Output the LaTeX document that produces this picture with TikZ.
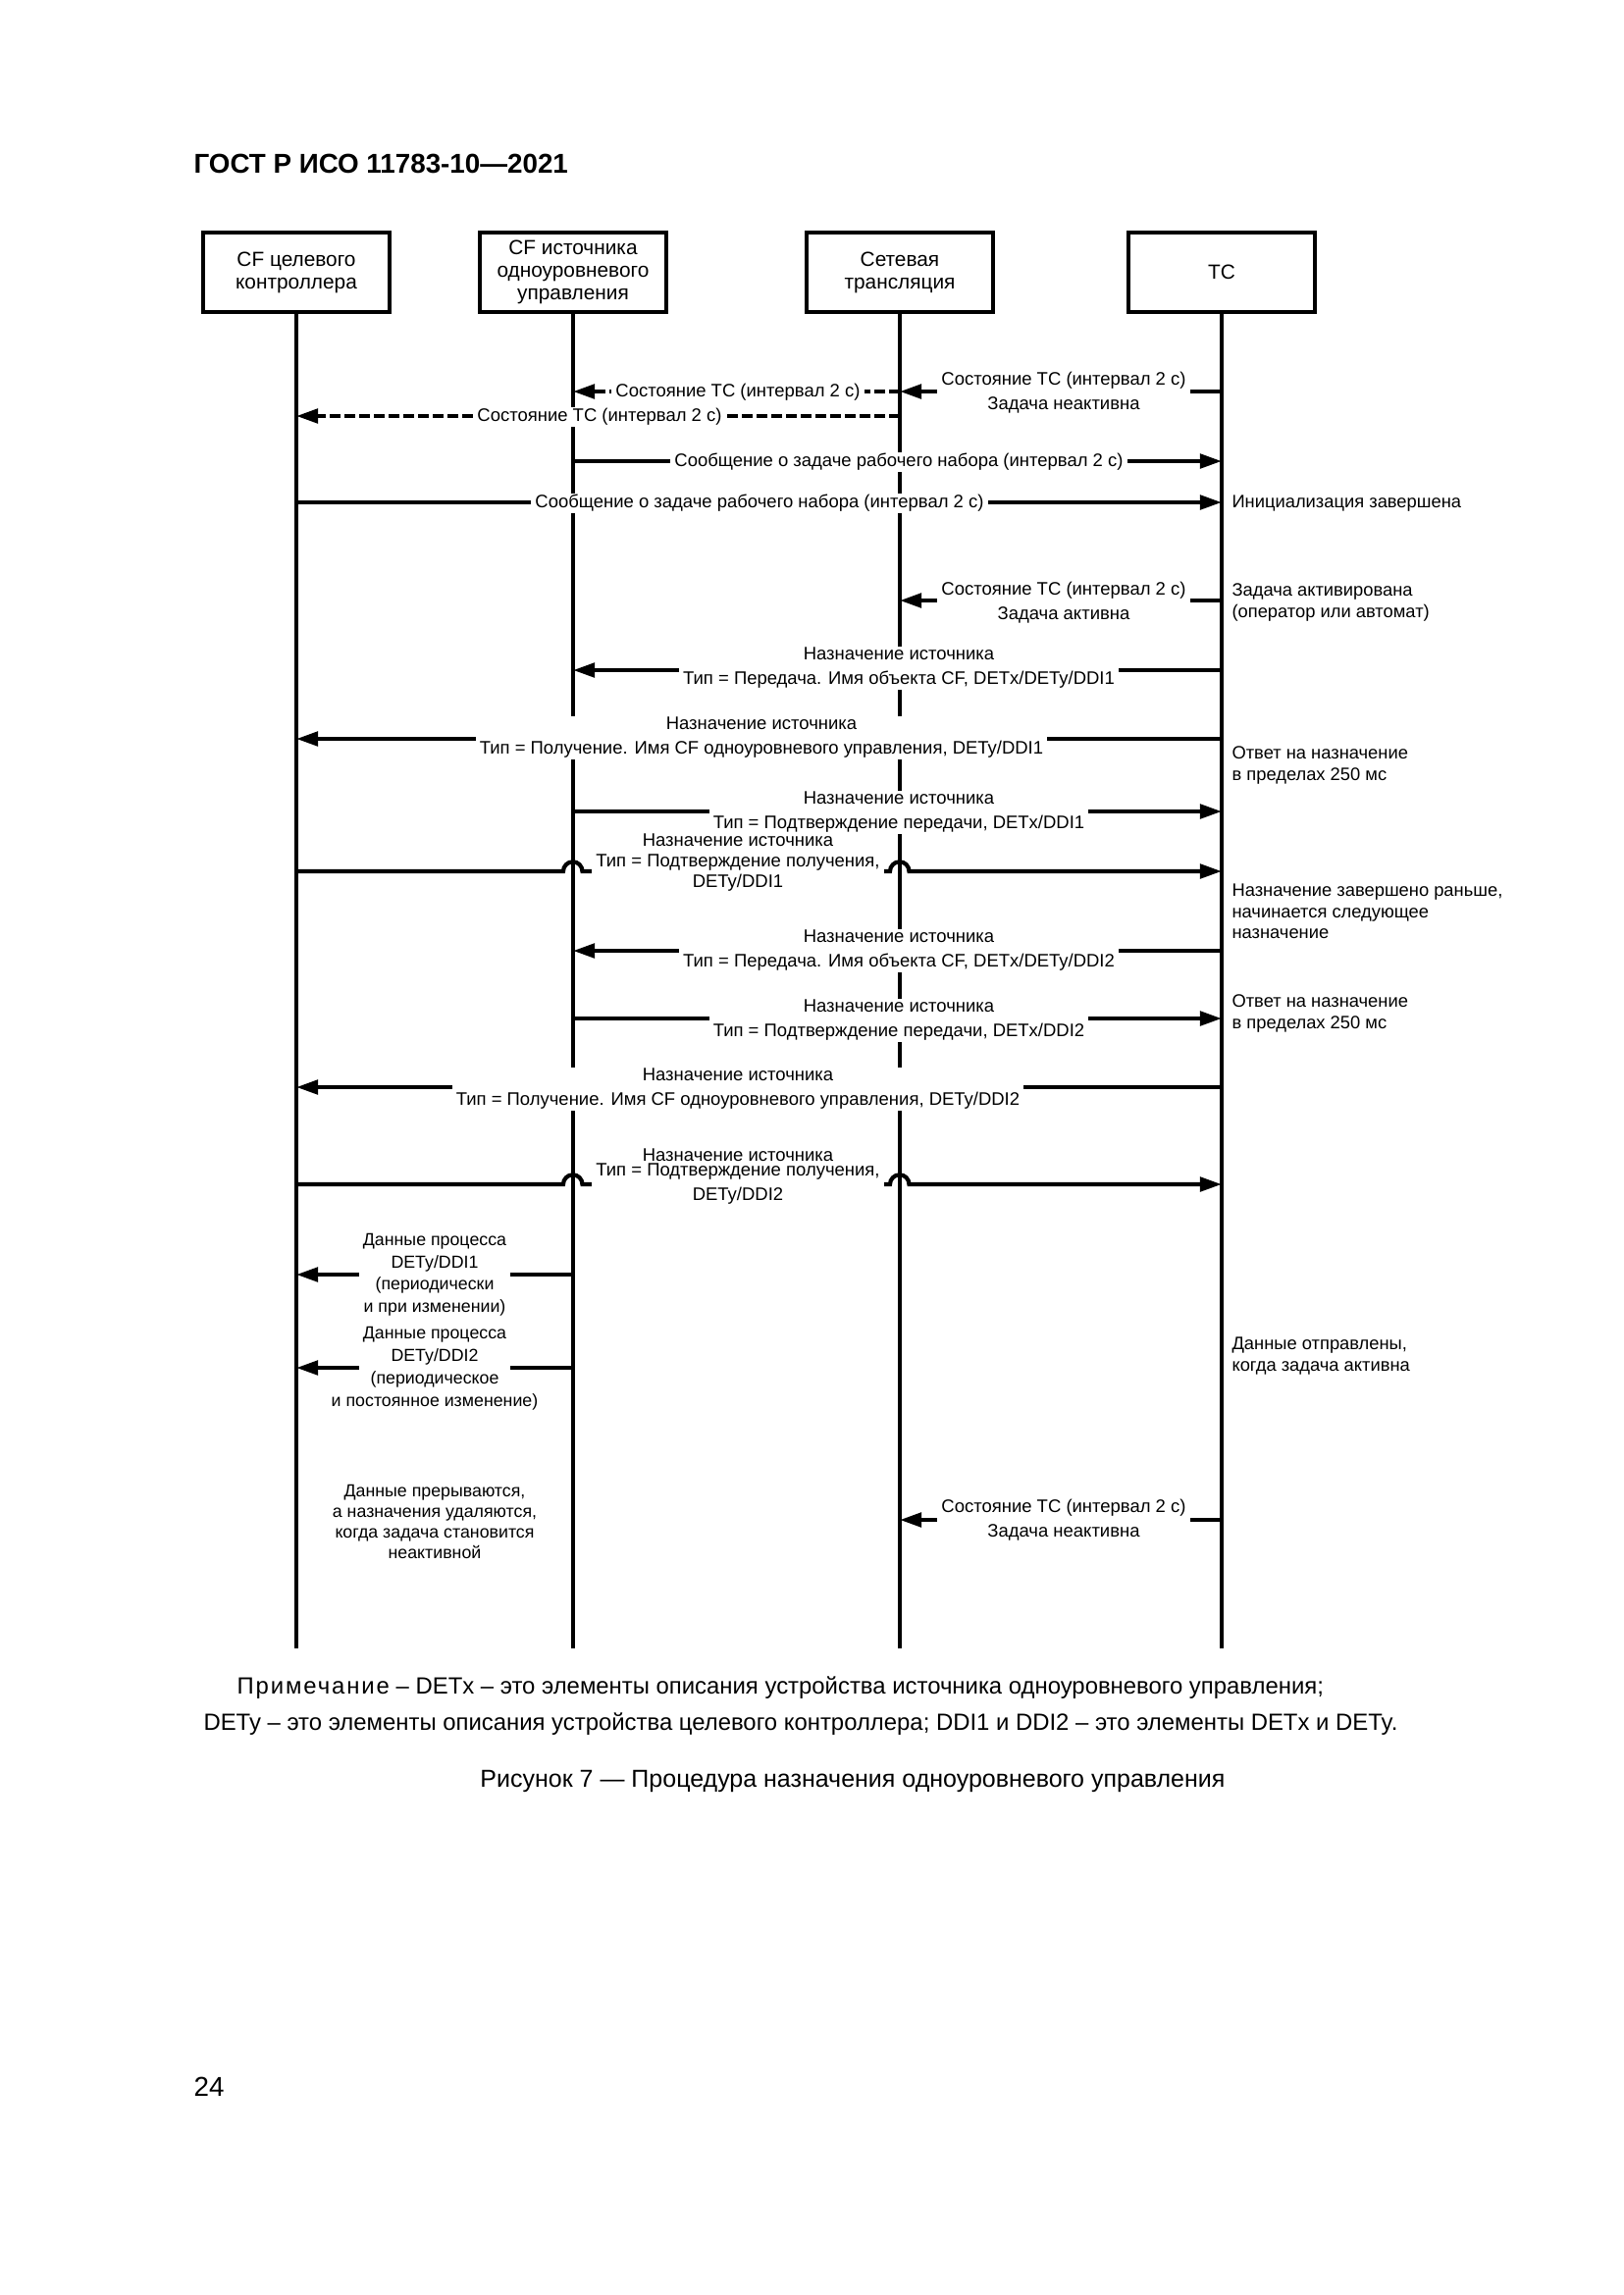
\documentclass[tikz,border=0pt]{standalone}
\usepackage{fontspec}
\setmainfont{Liberation Sans}
\usetikzlibrary{arrows.meta}
\begin{document}
\begin{tikzpicture}[x=0.36pt,y=-0.36pt,
  lifebox/.style={draw, line width=1.3pt, minimum width=68.4pt, minimum height=29.2pt, inner sep=0pt, align=center, font=\fontsize{7.5}{8.3}\selectfont},
  life/.style={line width=1.1pt},
  msg/.style={line width=1.5pt, -{Triangle[length=8pt,width=5.2pt]}},
  dmsg/.style={msg, dash pattern=on 4pt off 1.4pt},
  lbl/.style={fill=white, align=center, inner xsep=1.5pt, inner ysep=0.5pt, font=\fontsize{6.65}{9}\selectfont},
  lbltight/.style={lbl, font=\fontsize{6.65}{7.6}\selectfont},
  lbldata/.style={lbl, inner ysep=3pt, font=\fontsize{6.4}{8.3}\selectfont},
  datatext/.style={inner sep=0pt, align=center, font=\fontsize{6.4}{8.3}\selectfont},
  ann/.style={anchor=west, align=left, inner sep=0pt, font=\fontsize{6.6}{7.8}\selectfont},
  plain/.style={inner sep=0pt}
]
\useasboundingbox (0,0) rectangle (1654,2339);

% header
\node[plain, anchor=west, font=\fontsize{10}{12}\selectfont\bfseries] (hdr) at (197,167) {ГОСТ Р ИСО 11783-10—2021};

% lifeline heads
\node[lifebox] (b1) at (302,277.5) {CF целевого\\контроллера};
\node[lifebox] (b2) at (584,277.5) {CF источника\\одноуровневого\\управления};
\node[lifebox] (b3) at (917,277.5) {Сетевая\\трансляция};
\node[lifebox] (b4) at (1245,277.5) {ТС};

\coordinate (e1) at (302,1680);
\coordinate (e2) at (584,1680);
\coordinate (e3) at (917,1680);
\coordinate (e4) at (1245,1680);
\draw[life] (b1) -- (e1);
\draw[life] (b2) -- (e2);
\draw[life] (b3) -- (e3);
\draw[life] (b4) -- (e4);

% R1: TC -> network, network -> source (dashed)
\draw[msg] (b4 |- 0,399) -- (b3 |- 0,399);
\node[lbl] (m1) at (1084,400) {Состояние ТС (интервал 2 с)\\Задача неактивна};
\draw[dmsg] (b3 |- 0,399) -- (b2 |- 0,399);
\node[lbl] (m1b) at (752,400) {Состояние ТС (интервал 2 с)};
% R2: network -> target (dashed)
\draw[dmsg] (b3 |- 0,424) -- (b1 |- 0,424);
\node[lbl] (m2) at (611,425) {Состояние ТС (интервал 2 с)};
% R3
\draw[msg] (b2 |- 0,470) -- (b4 |- 0,470);
\node[lbl] (m3) at (916,471) {Сообщение о задаче рабочего набора (интервал 2 с)};
% R4
\draw[msg] (b1 |- 0,512) -- (b4 |- 0,512);
\node[lbl] (m4) at (774,513) {Сообщение о задаче рабочего набора (интервал 2 с)};
\node[ann] (a4) at (1255,513) {Инициализация завершена};
% R5
\draw[msg] (b4 |- 0,612) -- (b3 |- 0,612);
\node[lbl] (m5) at (1084,614) {Состояние ТС (интервал 2 с)\\Задача активна};
\node[ann] (a5) at (1255,614) {Задача активирована\\(оператор или автомат)};
% R6
\draw[msg] (b4 |- 0,683) -- (b2 |- 0,683);
\node[lbl] (m6) at (916,681) {Назначение источника\\Тип = Передача. Имя объекта CF, DETx/DETy/DDI1};
% R7
\draw[msg] (b4 |- 0,753) -- (b1 |- 0,753);
\node[lbl] (m7) at (776,752) {Назначение источника\\Тип = Получение. Имя CF одноуровневого управления, DETy/DDI1};
\node[ann] (a7) at (1255,780) {Ответ на назначение\\в пределах 250 мс};
% R8
\draw[msg] (b2 |- 0,827) -- (b4 |- 0,827);
\node[lbl] (m8) at (916,828) {Назначение источника\\Тип = Подтверждение передачи, DETx/DDI1};
% R9 (with jumps)
\draw[msg] (b1 |- 0,888) -- (574,888) arc[start angle=180,end angle=0,radius=3.5pt] -- (907,888) arc[start angle=180,end angle=0,radius=3.5pt] -- (b4 |- 0,888);
\node[lbltight] (m9) at (752,879) {Назначение источника\\Тип = Подтверждение получения,\\DETy/DDI1};
\node[ann] (a9) at (1255,929) {Назначение завершено раньше,\\начинается следующее\\назначение};
% R10
\draw[msg] (b4 |- 0,969) -- (b2 |- 0,969);
\node[lbl] (m10) at (916,969) {Назначение источника\\Тип = Передача. Имя объекта CF, DETx/DETy/DDI2};
% R11
\draw[msg] (b2 |- 0,1038) -- (b4 |- 0,1038);
\node[lbl] (m11) at (916,1040) {Назначение источника\\Тип = Подтверждение передачи, DETx/DDI2};
\node[ann] (a11) at (1255,1033) {Ответ на назначение\\в пределах 250 мс};
% R12
\draw[msg] (b4 |- 0,1108) -- (b1 |- 0,1108);
\node[lbl] (m12) at (752,1110) {Назначение источника\\Тип = Получение. Имя CF одноуровневого управления, DETy/DDI2};
% R13 (with jumps)
\draw[msg] (b1 |- 0,1207) -- (574,1207) arc[start angle=180,end angle=0,radius=3.5pt] -- (907,1207) arc[start angle=180,end angle=0,radius=3.5pt] -- (b4 |- 0,1207);
\node[lbltight] (m13) at (752,1199) {Назначение источника\\[-2pt]Тип = Подтверждение получения,\\[1.5pt]DETy/DDI2};
% R14
\draw[msg] (b2 |- 0,1299) -- (b1 |- 0,1299);
\node[lbldata] (m14) at (443,1277) {Данные процесса\\DETy/DDI1};
\node[datatext] (m14b) at (443,1321) {(периодически\\и при изменении)};
% R15
\draw[msg] (b2 |- 0,1394) -- (b1 |- 0,1394);
\node[lbldata] (m15) at (443,1372) {Данные процесса\\DETy/DDI2};
\node[datatext] (m15b) at (443,1417) {(периодическое\\и постоянное изменение)};
\node[ann] (a15) at (1255,1382) {Данные отправлены,\\когда задача активна};
% text
\node[plain, align=center, font=\fontsize{6.4}{7.5}\selectfont] (t16) at (443,1551) {Данные прерываются,\\а назначения удаляются,\\когда задача становится\\неактивной};
% R16
\draw[msg] (b4 |- 0,1549) -- (b3 |- 0,1549);
\node[lbl] (m16) at (1084,1549) {Состояние ТС (интервал 2 с)\\Задача неактивна};

% note and caption
\node[plain, anchor=west, font=\fontsize{8.6}{11}\selectfont] (n1) at (241,1720) {{\addfontfeature{LetterSpace=8}Примечание} – DETx – это элементы описания устройства источника одноуровневого управления;};
\node[plain, anchor=west, font=\fontsize{8.6}{11}\selectfont] (n2) at (207,1757) {DETy – это элементы описания устройства целевого контроллера; DDI1 и DDI2 – это элементы DETx и DETy.};
\node[plain, font=\fontsize{9}{12}\selectfont] (cap) at (869,1815) {Рисунок 7 — Процедура назначения одноуровневого управления};
\node[plain, anchor=west, font=\fontsize{10}{12}\selectfont] (pg) at (197,2127) {24};
\end{tikzpicture}
\end{document}
